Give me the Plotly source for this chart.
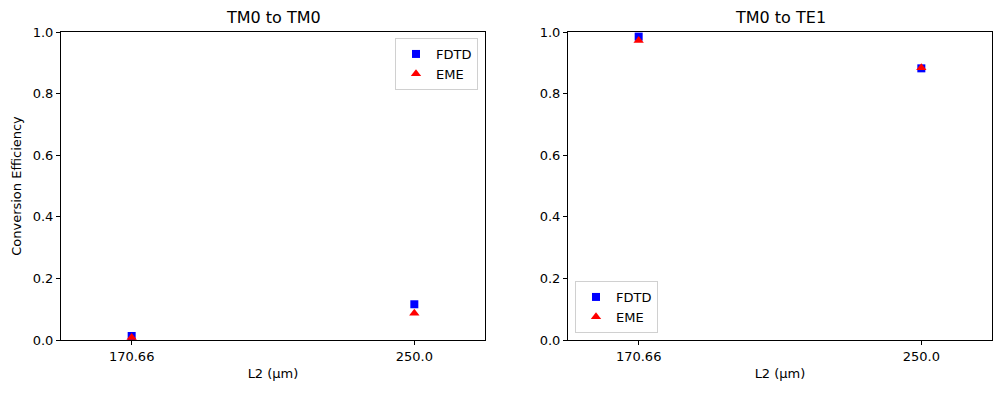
import plotly.graph_objects as go
from plotly.subplots import make_subplots

l2_values = [170.66, 250.0]
tick_labels = ["170.66", "250.0"]
tm0_fdtd = [0.013, 0.116]
tm0_eme = [0.008, 0.087]
te1_fdtd = [0.985, 0.882]
te1_eme = [0.972, 0.884]
titles = ["TM0 to TM0", "TM0 to TE1"]

# page has 8px body margin; compensate
W, H = 985, 377
ml, mr, mt, mb = 53, 1, 24, 45
pw = W - ml - mr
ph = H - mt - mb
gap = 83

fig = make_subplots(rows=1, cols=2, horizontal_spacing=gap / pw)

font = dict(family="DejaVu Sans", size=13, color="black")

def add(col, fdtd, eme, legend):
    fig.add_trace(go.Scatter(x=l2_values, y=fdtd, mode="markers", name="FDTD",
                             marker=dict(symbol="square", color="blue", size=8),
                             legend=legend), row=1, col=col)
    fig.add_trace(go.Scatter(x=l2_values, y=eme, mode="markers", name="EME",
                             marker=dict(symbol="triangle-up", color="red", size=9),
                             legend=legend), row=1, col=col)

add(1, tm0_fdtd, tm0_eme, "legend")
add(2, te1_fdtd, te1_eme, "legend2")

span = l2_values[1] - l2_values[0]
xr = [l2_values[0] - 0.25 * span, l2_values[1] + 0.25 * span]

for col in (1, 2):
    fig.update_xaxes(range=xr, tickvals=l2_values, ticktext=tick_labels,
                     showline=True, linecolor="black", linewidth=1, mirror=True,
                     ticks="outside", ticklen=4, tickcolor="black", showgrid=False,
                     zeroline=False, tickfont=font,
                     title=dict(text="L2 (μm)", font=font, standoff=6), row=1, col=col)
    fig.update_yaxes(range=[0, 1], tickvals=[0, 0.2, 0.4, 0.6, 0.8, 1.0],
                     ticktext=["0.0", "0.2", "0.4", "0.6", "0.8", "1.0"],
                     showline=True, linecolor="black", linewidth=1, mirror=True,
                     ticks="outside", ticklen=4, tickcolor="black", showgrid=False,
                     zeroline=False, tickfont=font, row=1, col=col)

fig.update_yaxes(title=dict(text="Conversion Efficiency", font=font, standoff=8), row=1, col=1)

dom1 = fig.layout.xaxis.domain
dom2 = fig.layout.xaxis2.domain
for dom, t in zip((dom1, dom2), titles):
    fig.add_annotation(text=t, x=(dom[0] + dom[1]) / 2, y=1, xref="paper", yref="paper",
                       xanchor="center", yanchor="bottom", yshift=3, showarrow=False,
                       font=dict(family="DejaVu Sans", size=16, color="black"))

legend_style = dict(bgcolor="white", bordercolor="#d0d0d0", borderwidth=1,
                    font=font, itemwidth=30, tracegroupgap=0)
fig.update_layout(
    width=W, height=H,
    margin=dict(l=ml, r=mr, t=mt, b=mb),
    plot_bgcolor="white", paper_bgcolor="white",
    font=font,
    legend=dict(x=(478 - 61) / pw, xanchor="right", y=(340 - 38) / ph, yanchor="top", **legend_style),
    legend2=dict(x=(575 - 61) / pw, xanchor="left", y=(340 - 333) / ph, yanchor="bottom", **legend_style),
)

fig.write_html("out.html")
